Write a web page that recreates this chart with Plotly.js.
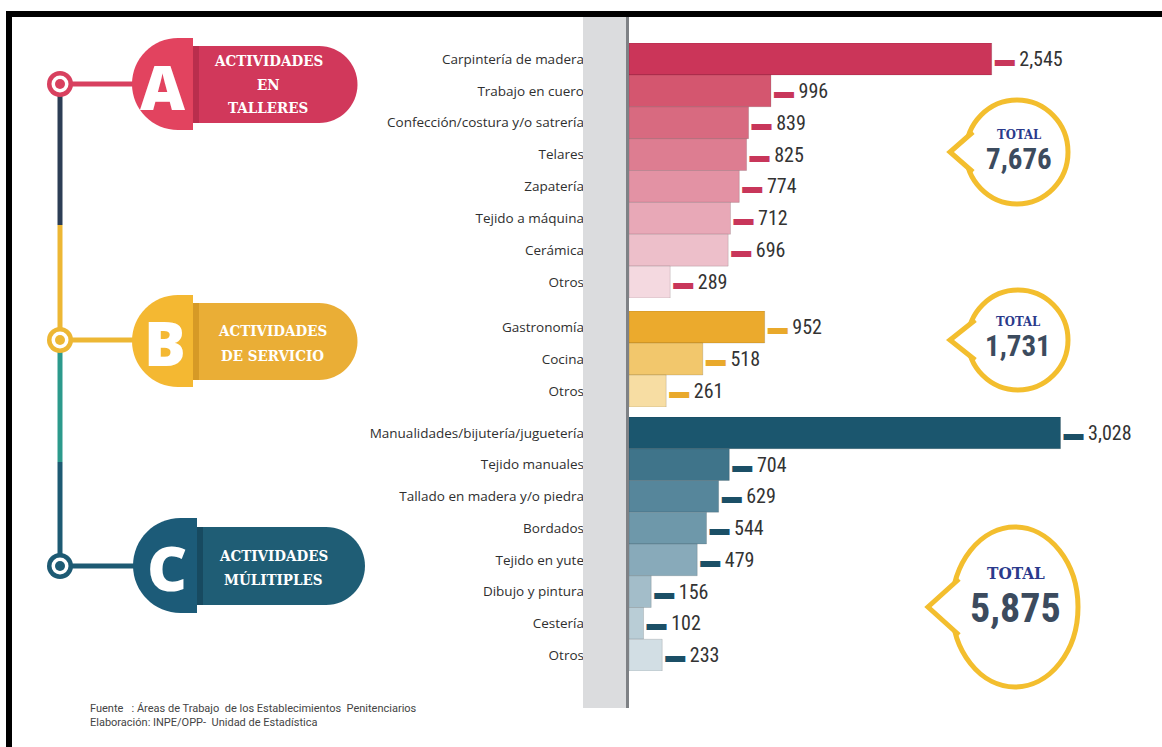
<!DOCTYPE html>
<html><head><meta charset="utf-8">
<script src="https://cdn.plot.ly/plotly-3.0.1.min.js"></script>
<style>html,body{margin:0;padding:0;background:#fff;overflow:hidden}#chart{width:1162px;height:747px}</style>
</head><body><div id="chart"></div>
<script>
// ---------- DATA ----------
const catsA = ["Carpintería de madera","Trabajo en cuero","Confección/costura y/o satrería","Telares","Zapatería","Tejido a máquina","Cerámica","Otros"];
const valsA = [2545, 996, 839, 825, 774, 712, 696, 289];
const catsB = ["Gastronomía","Cocina","Otros"];
const valsB = [952, 518, 261];
const catsC = ["Manualidades/bijutería/juguetería","Tejido manuales","Tallado en madera y/o piedra","Bordados","Tejido en yute","Dibujo y pintura","Cestería","Otros"];
const valsC = [3028, 704, 629, 544, 479, 156, 102, 233];
const groupTitles = [["ACTIVIDADES","EN","TALLERES"],["ACTIVIDADES","DE SERVICIO"],["ACTIVIDADES","MÚLITIPLES"]];
const groupLetters = ["A","B","C"];
const totalLabel = "TOTAL";
const sourceLines = ["Fuente   : Áreas de Trabajo  de los Establecimientos  Penitenciarios","Elaboración: INPE/OPP-  Unidad de Estadística"];

// ---------- STYLES ----------
const colorsA = ["#CB3559","#D4566F","#D86A80","#DD7D91","#E392A4","#E8A8B7","#EDBFCA","#F4D9E0"];
const colorsB = ["#EBAA2D","#F2C76C","#F7DDA3"];
const colorsC = ["#1B566E","#3F748A","#56869B","#6E98AA","#88AABA","#A3BDC9","#B9CDD6","#D2DEE4"];
const dashA = "#C8365A", dashB = "#E9A92B", dashC = "#1B4F66";

const W = 1162, H = 747;
const X = x => x / W, Y = y => 1 - y / H;
const P = (x, y) => X(x).toFixed(5) + "," + Y(y).toFixed(5);
const sum = a => a.reduce((s, v) => s + v, 0);
const fmt = n => n.toLocaleString("en-US");

const valueFont = {family: "Liberation Sans Narrow, Roboto Condensed, Arial Narrow, Roboto, sans-serif", size: 20, color: "#333"};
const tickFont = {family: "Open Sans, Noto Sans, sans-serif", size: 13.5, color: "#2f2f2f"};

function barTrace(cats, vals, colors, dash, yax) {
  return {
    type: "bar", orientation: "h", x: vals, y: cats, yaxis: yax, xaxis: "x",
    marker: {color: colors, line: {color: "rgba(0,0,0,0.13)", width: 1}},
    texttemplate: "<span style='color:" + dash + "'>▬</span> %{x:,}",
    textposition: "outside", cliponaxis: false, constraintext: "none",
    textfont: valueFont, hoverinfo: "skip", showlegend: false
  };
}
const data = [
  barTrace(catsA, valsA, colorsA, dashA, "y"),
  barTrace(catsB, valsB, colorsB, dashB, "y2"),
  barTrace(catsC, valsC, colorsC, dashC, "y3")
];

function yAxis(n, top, bot) {
  return {
    type: "category", domain: [Y(bot), Y(top)], range: [n - 0.5, -0.5],
    showgrid: false, zeroline: false, showline: false, ticks: "",
    ticklabelstandoff: 44, tickfont: tickFont, fixedrange: true, anchor: "x"
  };
}

// ---------- DECORATION ----------
const shapes = [];
const annotations = [];
function rect(x0, y0, x1, y1, fill) {
  shapes.push({type: "rect", xref: "paper", yref: "paper", x0: X(x0), x1: X(x1), y0: Y(y1), y1: Y(y0), fillcolor: fill, line: {width: 0}});
}
function ell(cx, cy, rx, ry, fill, lineColor, lw) {
  shapes.push({type: "circle", xref: "paper", yref: "paper", x0: X(cx - rx), x1: X(cx + rx), y0: Y(cy + ry), y1: Y(cy - ry),
    fillcolor: fill, line: {color: lineColor || fill, width: lw || 0}});
}
function path(d, fill, lineColor, lw) {
  shapes.push({type: "path", xref: "paper", yref: "paper", path: d, fillcolor: fill, line: {color: lineColor || fill, width: lw || 0}});
}
function line(x0, y0, x1, y1, color, w) {
  shapes.push({type: "line", xref: "paper", yref: "paper", x0: X(x0), x1: X(x1), y0: Y(y0), y1: Y(y1), line: {color: color, width: w}});
}
function text(x, y, t, font, xanchor) {
  annotations.push({xref: "paper", yref: "paper", x: X(x), y: Y(y), text: t, showarrow: false, font: font,
    xanchor: xanchor || "center", yanchor: "middle"});
}
const k = 0.5523;
function badge(left, split, right, pTop, pBot, bTop, bBot, cLeft, cBody, cShadow) {
  const r = (pBot - pTop) / 2, cy = (pTop + pBot) / 2, cx = left + r;
  path("M" + P(split, pTop) + " L" + P(cx, pTop) +
       " C" + P(cx - k * r, pTop) + " " + P(left, cy - k * r) + " " + P(left, cy) +
       " C" + P(left, cy + k * r) + " " + P(cx - k * r, pBot) + " " + P(cx, pBot) +
       " L" + P(split, pBot) + " Z", cLeft);
  const r2 = (bBot - bTop) / 2, cy2 = (bTop + bBot) / 2, cx2 = right - r2;
  path("M" + P(split, bTop) + " L" + P(cx2, bTop) +
       " C" + P(cx2 + k * r2, bTop) + " " + P(right, cy2 - k * r2) + " " + P(right, cy2) +
       " C" + P(right, cy2 + k * r2) + " " + P(cx2 + k * r2, bBot) + " " + P(cx2, bBot) +
       " L" + P(split, bBot) + " Z", cBody);
  rect(split, bTop, split + 6, bBot, cShadow);
}
function node(cx, cy, color) {
  ell(cx, cy, 13, 13, color);
  ell(cx, cy, 8.5, 8.5, "#ffffff");
  ell(cx, cy, 5, 5, color);
}
function bubble(cx, cy, rx, ry, tipX, dy) {
  const col = "#F3BE2E";
  ell(cx, cy, rx, ry, "#ffffff", col, 5);
  const ya = cy - dy, yb = cy + dy;
  const xa = cx - rx * Math.sqrt(1 - (dy / ry) * (dy / ry));
  path("M" + P(xa + 3, ya) + " L" + P(tipX, cy) + " L" + P(xa + 3, yb), "#ffffff", col, 5);
}

// frame
rect(6, 11, 1162, 17, "#000000");
rect(6, 11, 12, 747, "#000000");
// grey band beside the axis
rect(583, 17, 626, 708, "#DBDCDE");
rect(626, 17, 629, 708, "#7E8185");

// timeline
line(60, 84, 60, 225, "#2C3E55", 5);
line(60, 225, 60, 340, "#EDB734", 5);
line(60, 340, 60, 462, "#2C9A8C", 5);
line(60, 462, 60, 566, "#1D5A73", 5);
line(60, 84, 140, 84, "#D8405F", 5);
line(60, 340, 140, 340, "#EDB734", 5);
line(60, 566, 140, 566, "#1D5A73", 5);
node(60, 84, "#D8405F");
node(60, 340, "#EDB734");
node(60, 566, "#1D5A73");

// badges
badge(132, 193, 357.5, 38, 130, 46, 123, "#E2435F", "#D1385B", "#B92E4D");
badge(132, 193, 357.5, 295, 387, 303, 380, "#F4B832", "#EAAE36", "#D69A26");
badge(133, 197, 365, 518, 613, 527, 605, "#1C5B78", "#1F5D75", "#174A60");

const letterFont = {family: "Open Sans, Roboto, sans-serif", size: 62, color: "#ffffff", weight: 800};
text(163, 86, groupLetters[0], letterFont);
text(165, 342, groupLetters[1], letterFont);
text(167, 567, groupLetters[2], letterFont);

const badgeFont = {family: "DejaVu Serif Condensed, DejaVu Serif, serif", size: 15, color: "#ffffff", weight: "bold"};
const titleY = [[61, 85, 108], [331, 356], [556, 580]];
const titleX = [268, 272, 273];
groupTitles.forEach((lines, g) => lines.forEach((t, i) => text(titleX[g], titleY[g][i], t, badgeFont)));

// total bubbles
bubble(1017, 152, 51, 52, 950, 20);
bubble(1018, 340, 50, 50, 950, 20);
bubble(1015, 607, 63, 80, 928, 28);
const totFont = s => ({family: "DejaVu Serif Condensed, DejaVu Serif, serif", size: s, color: "#2B3A8C", weight: "bold"});
const numFont = s => ({family: "Liberation Sans Narrow, Roboto Condensed, Roboto, sans-serif", size: s, color: "#3C4B5E", weight: "bold"});
text(1019, 134, totalLabel, totFont(13));
text(1019, 159, fmt(sum(valsA)), numFont(29));
text(1018, 321, totalLabel, totFont(13));
text(1018, 346, fmt(sum(valsB)), numFont(29));
text(1016, 573, totalLabel, totFont(17));
text(1015, 608, fmt(sum(valsC)), numFont(40));

// source
const srcFont = {family: "Liberation Sans Narrow, Roboto, sans-serif", size: 11, color: "#444"};
text(88, 708, sourceLines[0], srcFont, "left");
text(88, 722, sourceLines[1], srcFont, "left");

const layout = {
  width: W, height: H, margin: {l: 0, r: 0, t: 0, b: 0},
  paper_bgcolor: "#ffffff", plot_bgcolor: "rgba(0,0,0,0)",
  barmode: "overlay", bargap: 0, showlegend: false,
  xaxis: {domain: [629 / W, 1], range: [0, 3740], visible: false, fixedrange: true, anchor: "y3"},
  yaxis: yAxis(catsA.length, 43, 298),
  yaxis2: yAxis(catsB.length, 311, 407),
  yaxis3: yAxis(catsC.length, 417, 671),
  shapes: shapes, annotations: annotations
};
Plotly.newPlot("chart", data, layout, {displayModeBar: false, staticPlot: true});
</script>
</body></html>
